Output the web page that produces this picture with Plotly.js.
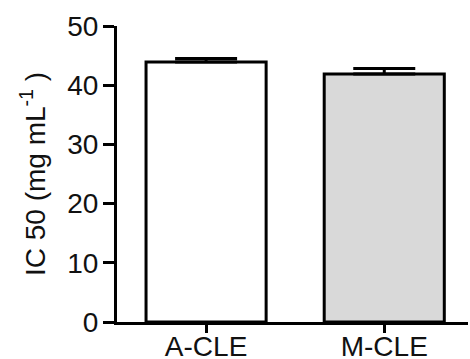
<!DOCTYPE html>
<html>
<head>
<meta charset="utf-8">
<script src="https://cdn.plot.ly/plotly-3.0.1.min.js"></script>
<style>html,body{margin:0;padding:0;background:#fff;}#chart{width:470px;height:359px;}</style>
</head>
<body>
<div id="chart"></div>
<script>
var categories = ["A-CLE", "M-CLE"];
var ic50Values = [43.9, 41.9];
var errorUp = [0.6, 0.9];
var errorDown = [0, 0];
var barColors = ["#ffffff", "#d9d9d9"];
var yTickValues = [0, 10, 20, 30, 40, 50];

var trace = {
  type: "bar",
  x: categories,
  y: ic50Values,
  marker: {color: barColors, line: {color: "#000", width: 3}},
  error_y: {type: "data", symmetric: false, array: errorUp, arrayminus: errorDown,
            color: "#000", thickness: 3, width: 31},
  hoverinfo: "none"
};

var layout = {
  width: 470, height: 359,
  margin: {l: 117, r: 2, t: 26, b: 37},
  paper_bgcolor: "#fff", plot_bgcolor: "#fff",
  showlegend: false,
  bargap: 0.326,
  font: {family: "Liberation Sans, Arial, sans-serif", color: "#000"},
  xaxis: {
    range: [-0.5, 1.47],
    showline: true, linecolor: "#000", linewidth: 3,
    ticks: "outside", ticklen: 8, tickwidth: 3, tickcolor: "#000",
    ticklabelstandoff: -11,
    tickfont: {size: 28, color: "#111"},
    showgrid: false, zeroline: false
  },
  yaxis: {
    range: [0, 50],
    tickvals: yTickValues,
    showline: true, linecolor: "#000", linewidth: 3,
    ticks: "outside", ticklen: 11, tickwidth: 3, tickcolor: "#000",
    ticklabelstandoff: -1,
    tickfont: {size: 28, color: "#111"},
    showgrid: false, zeroline: false,
    title: {text: "IC 50 (mg mL<sup>-1</sup> )", font: {size: 28, color: "#111"}, standoff: 14}
  }
};

Plotly.newPlot("chart", [trace], layout, {displayModeBar: false, staticPlot: true});
</script>
</body>
</html>
